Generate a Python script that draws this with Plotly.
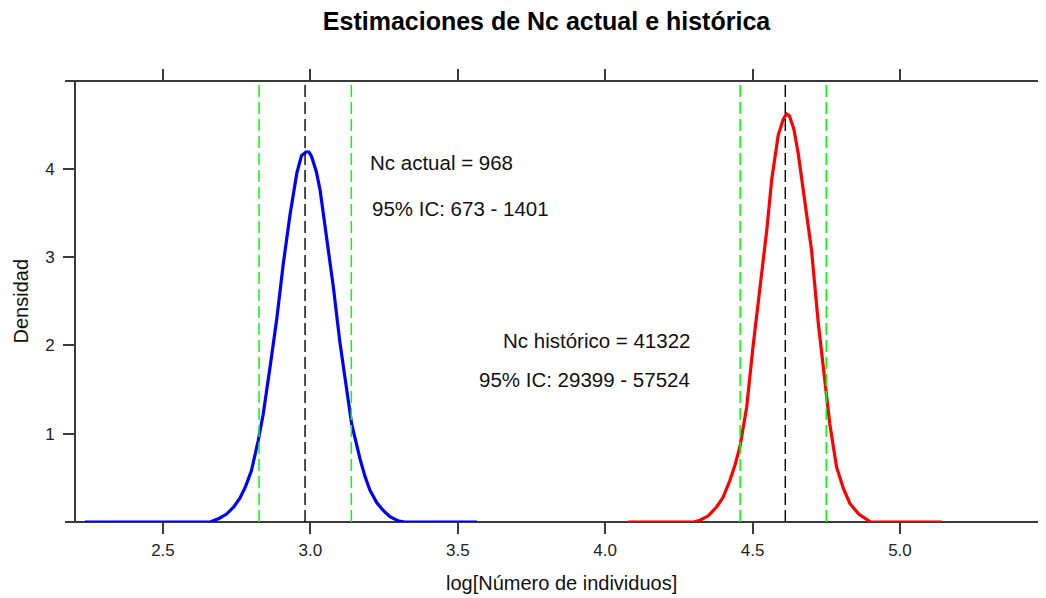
import plotly.graph_objects as go

# ---- data ----
actual_x = [2.235, 2.660, 2.690, 2.716, 2.740, 2.761, 2.780, 2.800, 2.823, 2.840, 2.863, 2.886,
            2.908, 2.931, 2.954, 2.970, 2.985, 2.995, 3.004, 3.020, 3.033, 3.055, 3.078, 3.100,
            3.123, 3.140, 3.168, 3.185, 3.202, 3.225, 3.247, 3.270, 3.300, 3.320, 3.565]
actual_y = [0.00, 0.00, 0.04, 0.09, 0.17, 0.27, 0.40, 0.58, 0.92, 1.22, 1.75, 2.30,
            2.92, 3.48, 3.95, 4.15, 4.19, 4.19, 4.14, 3.97, 3.76, 3.23, 2.66, 2.04,
            1.49, 1.11, 0.72, 0.52, 0.36, 0.22, 0.13, 0.06, 0.01, 0.00, 0.00]

hist_x = [4.076, 4.300, 4.322, 4.350, 4.378, 4.400, 4.423, 4.440, 4.457, 4.480, 4.502, 4.525,
          4.548, 4.565, 4.587, 4.604, 4.615, 4.625, 4.640, 4.655, 4.678, 4.700, 4.723, 4.745,
          4.762, 4.785, 4.808, 4.830, 4.860, 4.887, 4.900, 5.142]
hist_y = [0.00, 0.00, 0.02, 0.07, 0.17, 0.28, 0.47, 0.64, 0.85, 1.30, 2.00, 2.66,
          3.30, 3.88, 4.38, 4.56, 4.62, 4.60, 4.45, 4.17, 3.64, 3.08, 2.25, 1.57,
          1.11, 0.62, 0.38, 0.21, 0.09, 0.03, 0.00, 0.00]

nc_actual = 968
ic_actual = [673, 1401]
nc_hist = 41322
ic_hist = [29399, 57524]

# vertical reference lines (log scale)
mean_lines = [2.982, 4.611]
ci_lines = [2.826, 3.139, 4.458, 4.750]

x_ticks = [2.5, 3.0, 3.5, 4.0, 4.5, 5.0]
x_tick_labels = ["2.5", "3.0", "3.5", "4.0", "4.5", "5.0"]
y_ticks = [1, 2, 3, 4]
y_tick_labels = ["1", "2", "3", "4"]

title_text = "Estimaciones de Nc actual e histórica"
x_title = "log[Número de individuos]"
y_title = "Densidad"

# ---- figure ----
FONT = "Liberation Sans, Arial, sans-serif"
AX = "#3a3a3a"
OFF = 8  # page body margin
W, H = 1046 - OFF, 598 - OFF
L, R, T, B = 76 - OFF, 0, 81 - OFF, 76
PW = W - L - R

fig = go.Figure()
fig.add_trace(go.Scatter(x=actual_x, y=actual_y, mode="lines",
                         line=dict(color="#0000ff", width=3.2), hoverinfo="skip"))
fig.add_trace(go.Scatter(x=hist_x, y=hist_y, mode="lines",
                         line=dict(color="#ff0000", width=3.2), hoverinfo="skip"))
# invisible trace for top axis
fig.add_trace(go.Scatter(x=[x_ticks[0]], y=[0], xaxis="x2", mode="markers",
                         marker=dict(opacity=0), hoverinfo="skip"))

for v in ci_lines:
    fig.add_shape(type="line", xref="x", yref="paper", x0=v, x1=v, y0=0, y1=1,
                  line=dict(color="#00ff00", width=1.5, dash="12px,5px"), layer="above")
for v in mean_lines:
    fig.add_shape(type="line", xref="x", yref="paper", x0=v, x1=v, y0=0, y1=1,
                  line=dict(color="#000000", width=1.4, dash="12px,5px"), layer="above")

# frame: bottom and top lines extend a bit past the left axis
ext = -11 / PW
for yy in (0, 1):
    fig.add_shape(type="line", xref="paper", yref="paper", x0=ext, x1=1, y0=yy, y1=yy,
                  line=dict(color=AX, width=2), layer="below")

ann = [
    dict(x=3.195, y=4.07, text=f"Nc actual = {nc_actual}", xanchor="left"),
    dict(x=3.203, y=3.55, text=f"95% IC: {ic_actual[0]} - {ic_actual[1]}", xanchor="left"),
    dict(x=4.293, y=2.06, text=f"Nc histórico = {nc_hist}", xanchor="right"),
    dict(x=4.293, y=1.61, text=f"95% IC: {ic_hist[0]} - {ic_hist[1]}", xanchor="right"),
]
for a in ann:
    fig.add_annotation(xref="x", yref="y", showarrow=False, yanchor="middle",
                       font=dict(family=FONT, size=20.5, color="#111111"), **a)

fig.add_annotation(xref="paper", yref="paper", x=0.5, y=0, yshift=-61, xanchor="center",
                   yanchor="middle", text=x_title, showarrow=False,
                   font=dict(family=FONT, size=20, color="#111111"))
fig.add_annotation(xref="paper", yref="paper", x=0, y=0.5, xshift=-56, xanchor="center",
                   yanchor="middle", text=y_title, textangle=-90, showarrow=False,
                   font=dict(family=FONT, size=20, color="#111111"))

x0 = 2.205
x1 = x0 + PW / 294.8
ytop = (H - T - B) / 88.3

fig.update_layout(
    width=W, height=H,
    margin=dict(l=L, r=R, t=T, b=B, pad=0),
    paper_bgcolor="white", plot_bgcolor="white",
    showlegend=False,
    title=dict(text=f"<b>{title_text}</b>", x=(546.5 - OFF) / W, xref="container",
               xanchor="center", y=1 - (21 - OFF) / H, yref="container", yanchor="middle",
               font=dict(family=FONT, size=25, color="#000000")),
    xaxis=dict(range=[x0, x1], tickvals=x_ticks, ticktext=x_tick_labels,
               ticks="outside", ticklen=11, tickwidth=2, tickcolor=AX,
               showline=False, showgrid=False, zeroline=False, ticklabelstandoff=2,
               tickfont=dict(family=FONT, size=17, color="#222222")),
    xaxis2=dict(range=[x0, x1], overlaying="x", side="top", matches="x",
                tickvals=x_ticks, showticklabels=False,
                ticks="outside", ticklen=11, tickwidth=2, tickcolor=AX,
                showline=False, showgrid=False, zeroline=False),
    yaxis=dict(range=[0, ytop], tickvals=y_ticks, ticktext=y_tick_labels,
               ticks="outside", ticklen=11, tickwidth=2, tickcolor=AX,
               showline=True, linecolor=AX, linewidth=2, ticklabelstandoff=5,
               showgrid=False, zeroline=False,
               tickfont=dict(family=FONT, size=17, color="#222222")),
)

fig.write_html("out.html")
